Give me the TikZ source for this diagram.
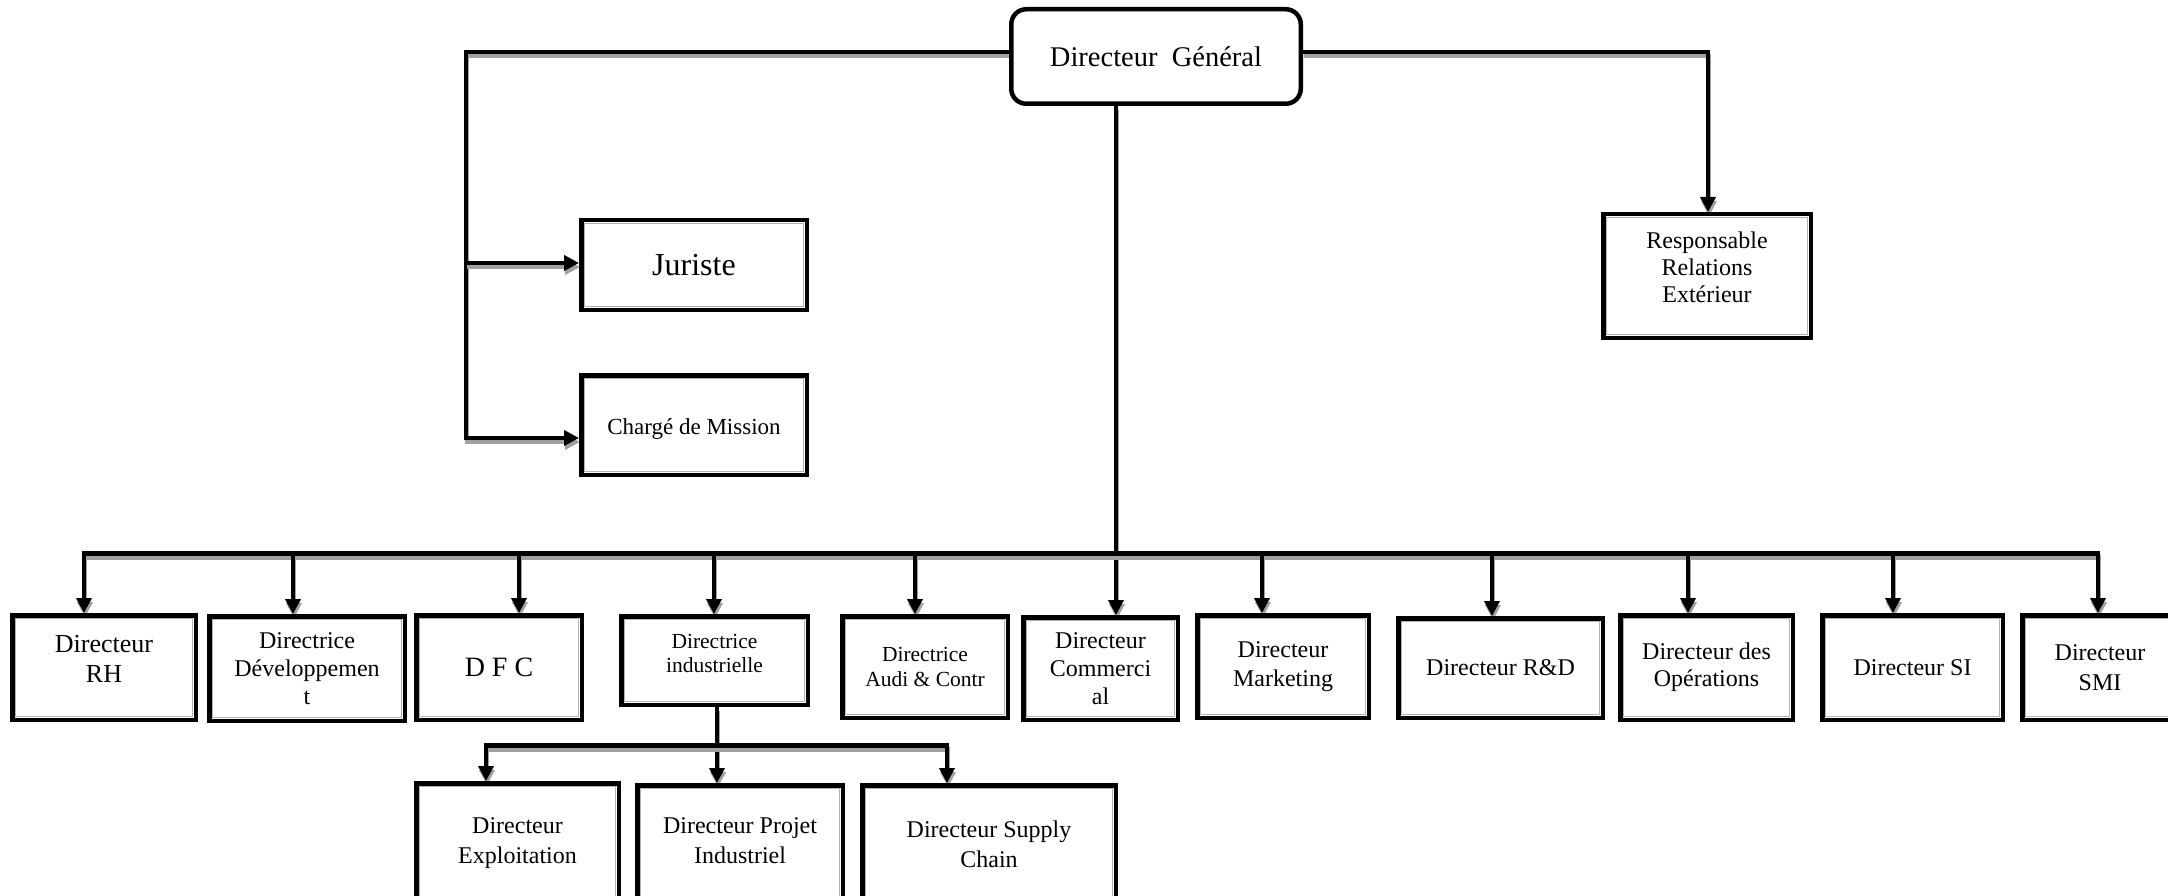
\documentclass[tikz,border=0pt]{standalone}
\usepackage{fontspec}
\setmainfont{Liberation Serif}
\usetikzlibrary{arrows.meta,backgrounds}
\definecolor{shade}{RGB}{160,160,160}
\definecolor{rim}{RGB}{178,178,178}
\newcommand\fsz[2]{\fontsize{#1}{#2}\selectfont}
% raise a stack of centred lines without changing the box it occupies
\newcommand\lifted[2]{\raisebox{#1}[\height][\depth]{\begin{tabular}{@{}c@{}}#2\end{tabular}}}

\begin{document}
\begin{tikzpicture}[x=1pt,y=-1pt,
  box/.style={draw=black, line width=4.5pt, fill=white, inner sep=0pt, align=center,
    font=\fsz{24}{28},
    path picture={\draw[rim,line width=1.2pt]
      ([shift={(2.9pt,-2.9pt)}]path picture bounding box.north west) rectangle
      ([shift={(-2.9pt,2.9pt)}]path picture bounding box.south east);}},
  headbox/.style={draw=black, line width=4.5pt, fill=white, rounded corners=15pt,
    inner sep=0pt, align=center, font=\fsz{28.5}{32}},
  sz/.style 2 args={minimum width=#1, minimum height=#2},
  link/.style={draw=black, line width=4.5pt,
    preaction={draw=shade, line width=4.5pt, transform canvas={shift={(1pt,-4pt)}}}},
  arr/.style={link, -{Triangle[length=15pt,width=15pt]}}
]
\useasboundingbox (0,0) rectangle (2168,896);

% top level
\node[headbox, sz={289.5pt}{94.5pt}] (dg) at (1156,56.5) {Directeur\ \ Général};

\node[box, sz={225.5pt}{89.5pt}, font=\fsz{32}{36}] (jur) at (694,265) {Juriste};
\node[box, sz={225.5pt}{99.5pt}, font=\fsz{23}{27}] (cm) at (694,425)
  {\raisebox{-4pt}[\height][\depth]{Chargé de Mission}};
\node[box, sz={207.5pt}{123.5pt}, font=\fsz{24}{27}] (rre) at (1707,276)
  {\lifted{6.4pt}{Responsable\\Relations\\Extérieur}};

% directors row
\node[box, sz={183.5pt}{104.5pt}, font=\fsz{26}{30}] (rh) at (104,667.5)
  {\lifted{6.5pt}{Directeur\\RH}};
\node[box, sz={195.5pt}{104.5pt}] (dev) at (307,668.5) {Directrice\\Développemen\\t};
\node[box, sz={165.5pt}{104.5pt}, font=\fsz{28}{32}] (dfc) at (499,667.5) {D F C};
\node[box, sz={186.5pt}{88.5pt}, font=\fsz{21.5}{24}] (ind) at (714.5,660.5)
  {\lifted{5.3pt}{Directrice\\industrielle}};
\node[box, sz={165.5pt}{101.5pt}, font=\fsz{21.5}{25}] (aud) at (925,667) {Directrice\\Audi \& Contr};
\node[box, sz={154.5pt}{102.5pt}] (com) at (1100.5,668.5) {Directeur\\Commerci\\al};
\node[box, sz={171.5pt}{102.5pt}, font=\fsz{24}{29}] (mkt) at (1283,666.5) {Directeur\\Marketing};
\node[box, sz={204.5pt}{99.5pt}] (rd) at (1500.5,668) {Directeur R\&D};
\node[box, sz={172.5pt}{104.5pt}, font=\fsz{24}{27}] (ope) at (1706.5,667.5) {Directeur des\\Opérations};
\node[box, sz={180.5pt}{104.5pt}] (si) at (1912.5,667.5) {Directeur SI};
\node[box, sz={155.5pt}{104.5pt}, font=\fsz{24}{30}] (smi) at (2100,667.5) {Directeur\\SMI};

% industrial branch
\node[box, sz={202.5pt}{119.5pt}, font=\fsz{24}{30}] (exp) at (517.5,843) {Directeur\\Exploitation};
\node[box, sz={205.5pt}{117.5pt}, font=\fsz{24}{30}] (pin) at (740,844)
  {\lifted{2pt}{Directeur Projet\\Industriel}};
\node[box, sz={253.5pt}{117.5pt}, font=\fsz{24}{30}] (sup) at (989,844) {Directeur Supply\\Chain};

% junction points
\coordinate (lt) at (466,52);
\coordinate (lj) at (466,263);
\coordinate (lb) at (466,438);
\coordinate (rt) at (1708,52);
\coordinate (bm) at (1116,553.5);
\coordinate (bl) at (84,553.5);
\coordinate (br) at (2098,553.5);
\coordinate (sm) at (717,745.5);
\coordinate (sl) at (486,745.5);
\coordinate (sr) at (947,745.5);

\begin{scope}[on background layer]
  % staff links
  \draw[arr] (dg.west |- lt) -- (lt) -- (lb) -- (cm.west |- lb);
  \draw[arr] (lj) -- (jur.west |- lj);
  \draw[arr] (dg.east |- rt) -- (rt) -- (rre.north -| rt);
  % main bus
  \draw[arr] (dg.south -| bm) -- (com.north -| bm);
  \draw[arr] (bm) -- (bl) -- (rh.north -| bl);
  \draw[arr] (bm) -- (br) -- (smi.north -| br);
  \foreach \n/\x in {dev/293, dfc/519, ind/714, aud/915, mkt/1262, rd/1492, ope/1688, si/1893}
    \draw[arr] (\x,553.5) -- (\n.north -| \x,0);
  % industrial sub-bus
  \draw[arr] (ind.south -| sm) -- (pin.north -| sm);
  \draw[arr] (sm) -- (sl) -- (exp.north -| sl);
  \draw[arr] (sm) -- (sr) -- (sup.north -| sr);
\end{scope}
\end{tikzpicture}
\end{document}
